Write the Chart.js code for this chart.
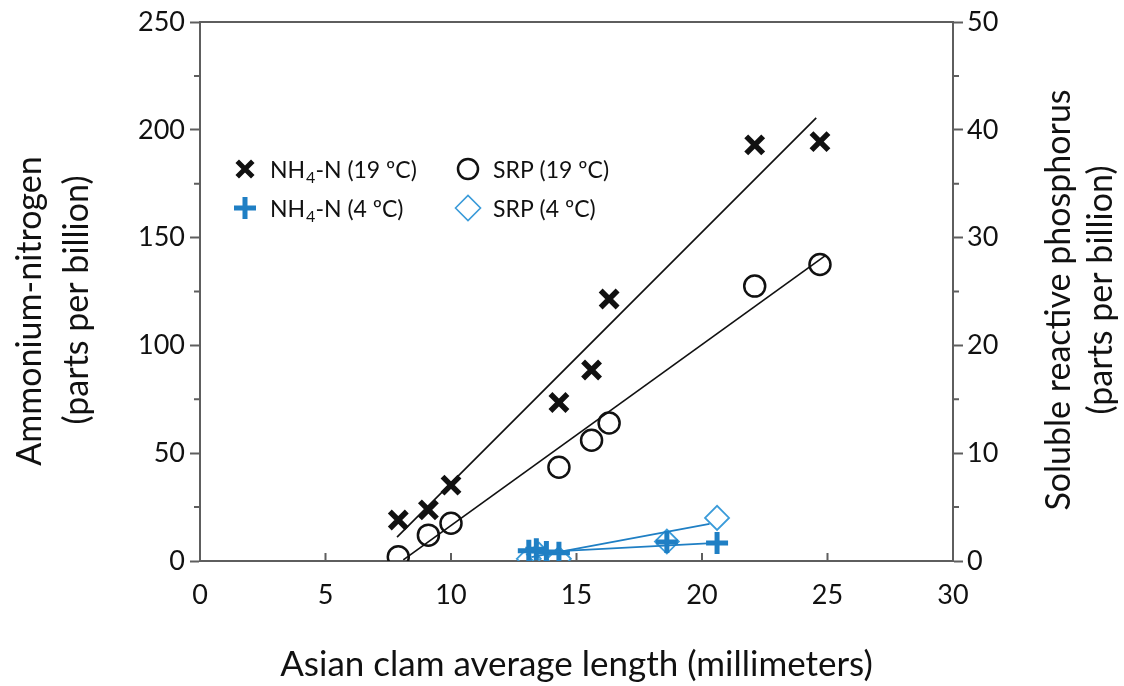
<!DOCTYPE html>
<html>
<head>
<meta charset="utf-8">
<script src="https://cdn.jsdelivr.net/npm/chart.js@4.4.1/dist/chart.umd.min.js"></script>
<style>
html,body{margin:0;padding:0;background:#fff;}
#wrap{width:1124px;height:686px;}
</style>
</head>
<body>
<div id="wrap"><canvas id="c" width="1124" height="686"></canvas></div>
<script>
// ---- data ----
const lengthWarm   = [7.9, 9.1, 10.0, 14.3, 15.6, 16.3, 22.1, 24.7];   // mm, 19 ºC
const nh4Warm      = [19.0, 23.7, 35.2, 73.5, 88.6, 121.5, 193, 194.5]; // ppb
const srpWarm      = [0.4, 2.4, 3.5, 8.7, 11.2, 12.8, 25.5, 27.5];       // ppb

const lengthColdNH4 = [13.1, 13.4, 13.8, 14.3, 18.6, 20.6];
const nh4Cold       = [4.8, 5.5, 4.2, 3.8, 8.8, 8.3];
const lengthColdSRP = [13.1, 13.5, 14.3, 18.6, 20.6];
const srpCold       = [0.2, 0.6, 0.2, 1.8, 4.0];

// fitted lines (end points)
const fitNH4WarmX = [7.85, 24.55];  const fitNH4WarmY = [11.1, 205.5];
const fitSRPWarmX = [8.1, 24.9];    const fitSRPWarmY = [0.1, 28.3];
const fitNH4ColdX = [13.2, 20.6];   const fitNH4ColdY = [3.9, 8.4];
const fitSRPColdX = [13.2, 20.3];   const fitSRPColdY = [0.35, 3.45];

const xTicks  = [0, 5, 10, 15, 20, 25, 30];
const yTicks  = [0, 50, 100, 150, 200, 250];
const y2Ticks = [0, 10, 20, 30, 40, 50];

const xTitle  = 'Asian clam average length (millimeters)';
const yTitle  = ['Ammonium-nitrogen', '(parts per billion)'];
const y2Title = ['Soluble reactive phosphorus', '(parts per billion)'];

const FONT = 'Lato';
const BLACK = '#111111';
const BLUE = '#1f7fc4';
const BLUE_LIGHT = '#3a9bd9';
const AXIS = '#5e5e5e';

const pts = (xs, ys) => xs.map((x, i) => ({x, y: ys[i]}));

const legendItems = [
  {style:'crossRot', color:BLACK, width:5, r:11, main:'NH', sub:'4', rest:'-N (19 ºC)', col:0, row:0},
  {style:'circle', color:BLACK, width:2.5, r:10, main:'SRP (19 ºC)', sub:'', rest:'', col:1, row:0},
  {style:'cross', color:BLUE, width:5, r:11, main:'NH', sub:'4', rest:'-N (4 ºC)', col:0, row:1},
  {style:'rectRot', color:BLUE_LIGHT, width:1.6, r:12.5, main:'SRP (4 ºC)', sub:'', rest:'', col:1, row:1}
];

const extrasPlugin = {
  id: 'extras',
  afterDraw(chart) {
    const ctx = chart.ctx;
    const ca = chart.chartArea;
    const xs = chart.scales.x, ys = chart.scales.y, y2 = chart.scales.y2;
    ctx.save();
    // top frame line
    ctx.strokeStyle = AXIS; ctx.lineWidth = 2;
    ctx.beginPath(); ctx.moveTo(ca.left - 1, ca.top); ctx.lineTo(ca.right + 1, ca.top); ctx.stroke();
    // x ticks pointing inward
    ctx.beginPath();
    xTicks.forEach(v => { const px = xs.getPixelForValue(v); ctx.moveTo(px, ca.bottom); ctx.lineTo(px, ca.bottom - 8); });
    ctx.stroke();
    // minor ticks on the y axes
    ctx.beginPath();
    for (let v = 25; v < 250; v += 50) { const py = ys.getPixelForValue(v); ctx.moveTo(ca.left, py); ctx.lineTo(ca.left - 6, py); }
    for (let v = 5; v < 50; v += 10) { const py = y2.getPixelForValue(v); ctx.moveTo(ca.right, py); ctx.lineTo(ca.right + 6, py); }
    ctx.stroke();

    // vertical axis titles, both reading bottom to top
    ctx.fillStyle = BLACK;
    ctx.font = '34px ' + FONT;
    ctx.textAlign = 'center'; ctx.textBaseline = 'middle';
    const drawV = (t, x, y) => { ctx.save(); ctx.translate(x, y); ctx.rotate(-Math.PI / 2); ctx.fillText(t, 0, 0); ctx.restore(); };
    drawV(yTitle[0], 30, 311);
    drawV(yTitle[1], 77, 300);
    drawV(y2Title[0], 1059, 300);
    drawV(y2Title[1], 1101, 290);

    // legend
    const colX = [245, 468], rowY = [169, 208], textOff = 25;
    legendItems.forEach(it => {
      const mx = colX[it.col], my = rowY[it.row];
      ctx.save();
      ctx.strokeStyle = it.color; ctx.fillStyle = 'rgba(0,0,0,0)'; ctx.lineWidth = it.width;
      Chart.helpers.drawPoint(ctx, {pointStyle: it.style, radius: it.r, rotation: 0, borderWidth: it.width}, mx, my);
      ctx.restore();
      ctx.fillStyle = BLACK; ctx.textAlign = 'left'; ctx.textBaseline = 'alphabetic';
      let x = mx + textOff; const base = my + 9;
      ctx.font = '23px ' + FONT;
      ctx.fillText(it.main, x, base); x += ctx.measureText(it.main).width;
      if (it.sub) {
        ctx.font = '16px ' + FONT;
        ctx.fillText(it.sub, x + 1, base + 5); x += ctx.measureText(it.sub).width + 1;
        ctx.font = '23px ' + FONT;
        ctx.fillText(it.rest, x, base);
      }
    });
    ctx.restore();
  }
};

new Chart(document.getElementById('c'), {
  type: 'scatter',
  data: {
    datasets: [
      {label:'fit NH4 19', type:'line', data: pts(fitNH4WarmX, fitNH4WarmY), yAxisID:'y', borderColor:BLACK, borderWidth:1.7, pointRadius:0, fill:false},
      {label:'fit SRP 19', type:'line', data: pts(fitSRPWarmX, fitSRPWarmY), yAxisID:'y2', borderColor:BLACK, borderWidth:1.7, pointRadius:0, fill:false},
      {label:'fit NH4 4', type:'line', data: pts(fitNH4ColdX, fitNH4ColdY), yAxisID:'y', borderColor:BLUE, borderWidth:1.8, pointRadius:0, fill:false},
      {label:'fit SRP 4', type:'line', data: pts(fitSRPColdX, fitSRPColdY), yAxisID:'y2', borderColor:BLUE, borderWidth:1.8, pointRadius:0, fill:false},
      {label:'NH4-N (19 ºC)', data: pts(lengthWarm, nh4Warm), yAxisID:'y', pointStyle:'crossRot', pointRadius:12, borderColor:BLACK, borderWidth:5.5, backgroundColor:BLACK},
      {label:'SRP (19 ºC)', data: pts(lengthWarm, srpWarm), yAxisID:'y2', pointStyle:'circle', pointRadius:10.5, borderColor:BLACK, borderWidth:2.5, backgroundColor:'rgba(0,0,0,0)'},
      {label:'NH4-N (4 ºC)', data: pts(lengthColdNH4, nh4Cold), yAxisID:'y', pointStyle:'cross', pointRadius:11, borderColor:BLUE, borderWidth:5, backgroundColor:BLUE},
      {label:'SRP (4 ºC)', data: pts(lengthColdSRP, srpCold), yAxisID:'y2', pointStyle:'rectRot', pointRadius:12, borderColor:BLUE_LIGHT, borderWidth:1.8, backgroundColor:'rgba(0,0,0,0)'}
    ]
  },
  options: {
    responsive: false,
    animation: false,
    devicePixelRatio: 1,
    layout: {padding: {top: 22, left: 0, right: 0, bottom: 0}},
    plugins: {legend: {display: false}, tooltip: {enabled: false}},
    scales: {
      x: {
        type: 'linear', position: 'bottom', min: 0, max: 30,
        afterBuildTicks: s => { s.ticks = xTicks.map(v => ({value: v})); },
        ticks: {color: BLACK, font: {family: FONT, size: 27}, padding: 18, maxRotation: 0, autoSkip: false},
        grid: {drawOnChartArea: false, drawTicks: false, color: 'rgba(0,0,0,0)'},
        border: {display: true, color: AXIS, width: 2},
        title: {display: true, text: xTitle, color: BLACK, font: {family: FONT, size: 35, lineHeight: 1.2}, padding: {top: 0, bottom: 0}},
        afterFit: s => { s.height = 125; }
      },
      y: {
        type: 'linear', position: 'left', min: 0, max: 250,
        afterBuildTicks: s => { s.ticks = yTicks.map(v => ({value: v})); },
        ticks: {color: BLACK, font: {family: FONT, size: 27}, padding: 5, autoSkip: false},
        grid: {drawOnChartArea: false, drawTicks: true, tickLength: 10, tickWidth: 2, tickColor: AXIS, color: 'rgba(0,0,0,0)'},
        border: {display: true, color: AXIS, width: 2},
        afterFit: s => { s.width = 200; }
      },
      y2: {
        type: 'linear', position: 'right', min: 0, max: 50,
        afterBuildTicks: s => { s.ticks = y2Ticks.map(v => ({value: v})); },
        ticks: {color: BLACK, font: {family: FONT, size: 27}, padding: 4, autoSkip: false},
        grid: {drawOnChartArea: false, drawTicks: true, tickLength: 10, tickWidth: 2, tickColor: AXIS, color: 'rgba(0,0,0,0)'},
        border: {display: true, color: AXIS, width: 2},
        afterFit: s => { s.width = 171; }
      }
    }
  },
  plugins: [extrasPlugin]
});
</script>
</body>
</html>
